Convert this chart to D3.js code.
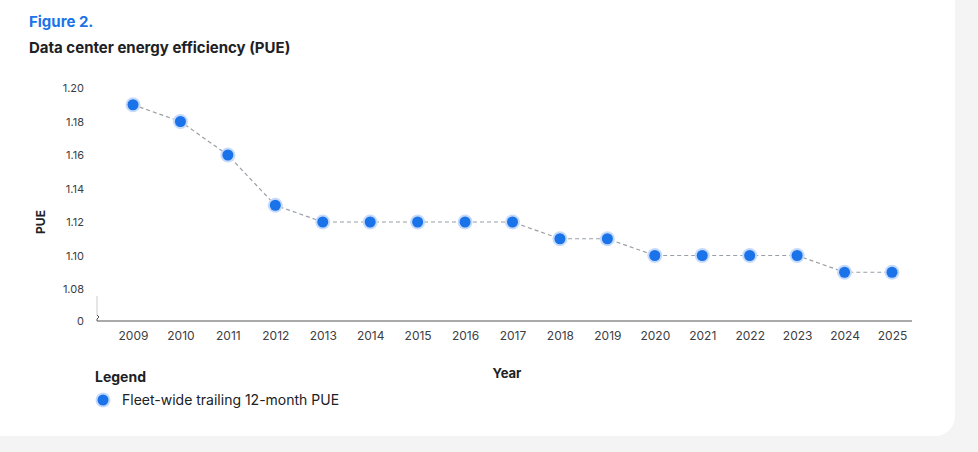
<!DOCTYPE html>
<html lang="en">
<head>
<meta charset="UTF-8">
<title>Data center energy efficiency (PUE)</title>
<script src="https://d3js.org/d3.v7.min.js"></script>
<style>
    body { margin: 0; background: #f4f4f5; font-family: Inter, Roboto, "Noto Sans", sans-serif; }
</style>
</head>
<body>
<script>
    const years = ["2009", "2010", "2011", "2012", "2013", "2014", "2015", "2016", "2017",
        "2018", "2019", "2020", "2021", "2022", "2023", "2024", "2025"]
    const pue = [1.19, 1.18, 1.16, 1.13, 1.12, 1.12, 1.12, 1.12, 1.12,
        1.11, 1.11, 1.10, 1.10, 1.10, 1.10, 1.09, 1.09]
    const yTicks = [1.08, 1.10, 1.12, 1.14, 1.16, 1.18, 1.20]

    const W = 978, H = 452
    const svg = d3.select("body").append("svg").attr("width", W).attr("height", H)

    svg.append("rect").attr("x", -20).attr("y", -20).attr("width", 975).attr("height", 456)
        .attr("rx", 20).attr("fill", "#fff")

    svg.append("text").attr("x", 29).attr("y", 27).attr("fill", "#1a73e8")
        .attr("font-size", 15).attr("font-weight", 700).text("Figure 2.")
    svg.append("text").attr("x", 29).attr("y", 53).attr("fill", "#202124")
        .attr("font-size", 15).attr("font-weight", 700).text("Data center energy efficiency (PUE)")

    const x = d3.scalePoint().domain(years).range([133, 892])
    const y = d3.scaleLinear().domain([1.08, 1.20]).range([289, 88])
    const axisY = 321

    svg.selectAll(".yt").data(yTicks).enter().append("text")
        .attr("x", 84).attr("y", d => y(d) + 4).attr("text-anchor", "end")
        .attr("font-size", 11).attr("fill", "#3c4043").text(d => d.toFixed(2))
    svg.append("text").attr("x", 84).attr("y", axisY + 4).attr("text-anchor", "end")
        .attr("font-size", 11).attr("fill", "#3c4043").text("0")

    // axis with break
    svg.append("path").attr("fill", "none").attr("stroke", "#ccc")
        .attr("d", `M97,296 L97,315`)
    svg.append("path").attr("fill", "none").attr("stroke", "#555").attr("stroke-width", 1)
        .attr("d", `M97,315 l2,2 l-2,2 L97,${axisY} L912,${axisY}`)

    const xAxis = svg.append("g").attr("transform", `translate(0,${axisY})`)
        .call(d3.axisBottom(x).tickSize(0).tickPadding(10))
    xAxis.select(".domain").remove()
    xAxis.selectAll("text").attr("font-size", 12).attr("fill", "#3c4043")
        .attr("font-family", "Inter, Roboto, sans-serif")

    svg.append("text").attr("transform", "translate(45,222) rotate(-90)")
        .attr("text-anchor", "middle").attr("font-size", 12).attr("font-weight", 700)
        .attr("fill", "#202124").text("PUE")
    svg.append("text").attr("x", 507).attr("y", 378).attr("text-anchor", "middle")
        .attr("font-size", 13).attr("font-weight", 700).attr("fill", "#202124").text("Year")

    const line = d3.line().x((d, i) => x(years[i])).y(d => y(d))
    svg.append("path").datum(pue).attr("fill", "none").attr("stroke", "#9aa0a6")
        .attr("stroke-width", 1.2).attr("stroke-dasharray", "4,3").attr("d", line)

    const dots = svg.selectAll(".dot").data(pue).enter().append("g")
        .attr("transform", (d, i) => `translate(${x(years[i])},${y(d)})`)
    dots.append("circle").attr("r", 7.5).attr("fill", "#c6dafc")
    dots.append("circle").attr("r", 5.5).attr("fill", "#1a73e8")

    svg.append("text").attr("x", 95).attr("y", 382).attr("font-size", 14)
        .attr("font-weight", 700).attr("fill", "#202124").text("Legend")
    svg.append("circle").attr("cx", 103).attr("cy", 400).attr("r", 7.5).attr("fill", "#c6dafc")
    svg.append("circle").attr("cx", 103).attr("cy", 400).attr("r", 5.5).attr("fill", "#1a73e8")
    svg.append("text").attr("x", 122).attr("y", 405).attr("font-size", 14)
        .attr("fill", "#202124").text("Fleet-wide trailing 12-month PUE")
</script>
</body>
</html>
